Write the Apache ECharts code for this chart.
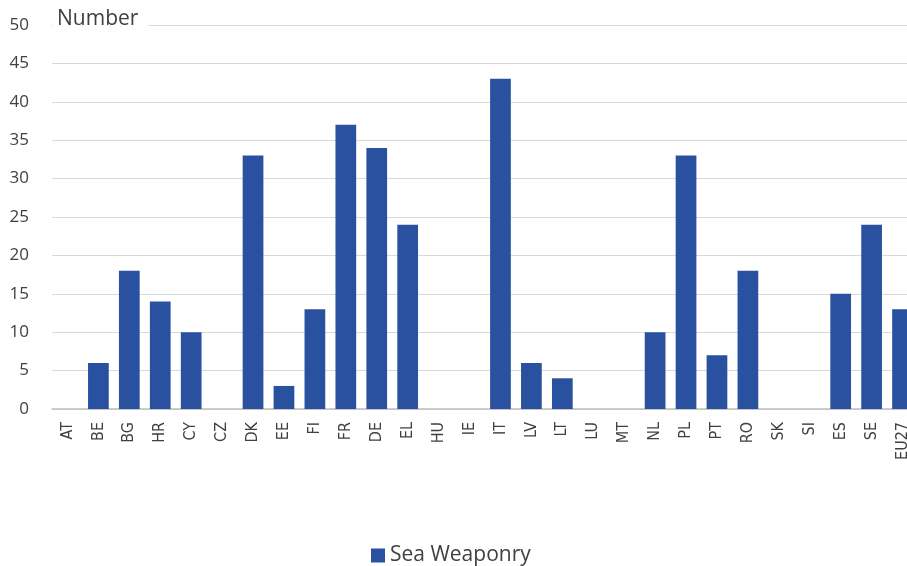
<!DOCTYPE html>
<html>
<head>
<meta charset="utf-8">
<script src="https://cdn.jsdelivr.net/npm/echarts@6/dist/echarts.min.js"></script>
<style>
  html, body { margin: 0; padding: 0; background: #ffffff; overflow: hidden; }
  /* the plot runs slightly past the right edge of the page */
  #chart { width: 918px; height: 566px; }
</style>
</head>
<body>
<div id="chart"></div>
<script>
// Member-state codes along the x axis
const countries = ['AT', 'BE', 'BG', 'HR', 'CY', 'CZ', 'DK', 'EE', 'FI', 'FR', 'DE', 'EL', 'HU', 'IE',
  'IT', 'LV', 'LT', 'LU', 'MT', 'NL', 'PL', 'PT', 'RO', 'SK', 'SI', 'ES', 'SE', 'EU27'];

// Number of entities per country
const seaWeaponry = [0, 6, 18, 14, 10, 0, 33, 3, 13, 37, 34, 24, 0, 0,
  43, 6, 4, 0, 0, 10, 33, 7, 18, 0, 0, 15, 24, 13];

const seriesName = 'Sea Weaponry';
const yTicks = { min: 0, max: 50, step: 5 };

const chart = echarts.init(document.getElementById('chart'), null, { renderer: 'canvas' });

chart.setOption({
  backgroundColor: '#ffffff',
  animation: false,
  title: {
    text: 'Number',
    left: 53,
    top: 7,
    padding: [2, 10, 2, 4],
    backgroundColor: '#ffffff',
    textStyle: {
      fontFamily: 'Open Sans',
      fontSize: 21,
      fontWeight: 'normal',
      color: '#404040'
    }
  },
  legend: {
    data: [seriesName],
    top: 545,
    left: 371,
    padding: 0,
    icon: 'rect',
    itemWidth: 14,
    itemHeight: 14,
    itemGap: 4,
    textStyle: {
      fontFamily: 'Open Sans',
      fontSize: 21,
      color: '#404040'
    }
  },
  grid: {
    left: 52,
    top: 25,
    bottom: 157,
    right: 0,
    containLabel: false
  },
  xAxis: {
    type: 'category',
    data: countries,
    axisTick: { show: false },
    axisLine: { show: true, lineStyle: { color: '#bfbfbf', width: 1.5 } },
    axisLabel: {
      interval: 0,
      rotate: 90,
      margin: 13,
      fontFamily: '"DejaVu Sans Condensed", "Liberation Sans Narrow", sans-serif',
      fontSize: 16,
      color: '#404040'
    }
  },
  yAxis: {
    type: 'value',
    min: yTicks.min,
    max: yTicks.max,
    interval: yTicks.step,
    axisLine: { show: false },
    axisTick: { show: false },
    splitLine: { lineStyle: { color: '#d9d9d9', width: 1 } },
    axisLabel: {
      margin: 23,
      fontFamily: 'Open Sans',
      fontSize: 17,
      color: '#404040'
    }
  },
  series: [{
    name: seriesName,
    type: 'bar',
    data: seaWeaponry,
    barCategoryGap: '33%',
    itemStyle: { color: '#29519f' },
    z: 3
  }]
});
</script>
</body>
</html>
